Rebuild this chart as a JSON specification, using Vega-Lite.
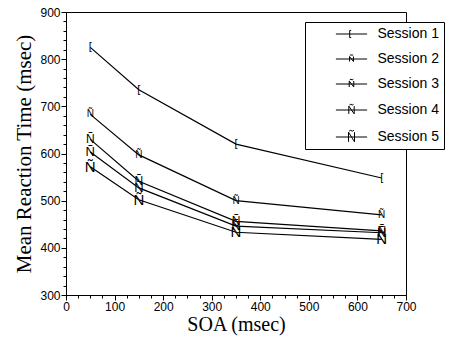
{
  "$schema": "https://vega.github.io/schema/vega-lite/v6.json",
  "width": 340,
  "height": 283,
  "autosize": {"type": "none"},
  "padding": {"left": 66, "top": 12, "right": 64, "bottom": 45},
  "background": "white",
  "config": {
    "view": {"stroke": "black", "strokeWidth": 1},
    "axis": {
      "domainColor": "black", "tickColor": "black", "labelColor": "black", "titleColor": "black",
      "grid": false, "labelFont": "Liberation Sans", "labelFontSize": 12,
      "titleFont": "Liberation Serif", "titleFontSize": 20, "titleFontWeight": "normal",
      "labelFlush": false, "labelOverlap": false, "tickWidth": 1, "domainWidth": 1, "labelPadding": 1
    }
  },
  "data": {"values": [
    {"session": "Session 1", "soa": 50, "rt": 825},
    {"session": "Session 1", "soa": 150, "rt": 735},
    {"session": "Session 1", "soa": 350, "rt": 620},
    {"session": "Session 1", "soa": 650, "rt": 548},
    {"session": "Session 2", "soa": 50, "rt": 683},
    {"session": "Session 2", "soa": 150, "rt": 597},
    {"session": "Session 2", "soa": 350, "rt": 500},
    {"session": "Session 2", "soa": 650, "rt": 470},
    {"session": "Session 3", "soa": 50, "rt": 630},
    {"session": "Session 3", "soa": 150, "rt": 541},
    {"session": "Session 3", "soa": 350, "rt": 456},
    {"session": "Session 3", "soa": 650, "rt": 436},
    {"session": "Session 4", "soa": 50, "rt": 603},
    {"session": "Session 4", "soa": 150, "rt": 527},
    {"session": "Session 4", "soa": 350, "rt": 446},
    {"session": "Session 4", "soa": 650, "rt": 432},
    {"session": "Session 5", "soa": 50, "rt": 572},
    {"session": "Session 5", "soa": 150, "rt": 502},
    {"session": "Session 5", "soa": 350, "rt": 433},
    {"session": "Session 5", "soa": 650, "rt": 418}
  ]},
  "encoding": {
    "x": {
      "field": "soa", "type": "quantitative",
      "scale": {"domain": [0, 700], "nice": false},
      "axis": {
        "title": "SOA (msec)", "titlePadding": 2,
        "values": [0,25,50,75,100,125,150,175,200,225,250,275,300,325,350,375,400,425,450,475,500,525,550,575,600,625,650,675,700],
        "labelExpr": "datum.value % 100 === 0 ? datum.label : ''",
        "tickSize": {"condition": {"test": "datum.value % 100 === 0", "value": 5}, "value": 3}
      }
    },
    "y": {
      "field": "rt", "type": "quantitative",
      "scale": {"domain": [300, 900], "nice": false, "zero": false},
      "axis": {
        "title": "Mean Reaction Time (msec)", "titlePadding": 5, "titleFontSize": 21,
        "values": [300,320,340,360,380,400,420,440,460,480,500,520,540,560,580,600,620,640,660,680,700,720,740,760,780,800,820,840,860,880,900],
        "labelExpr": "datum.value % 100 === 0 ? datum.label : ''",
        "tickSize": {"condition": {"test": "datum.value % 100 === 0", "value": 5}, "value": 3}
      }
    }
  },
  "layer": [
    {
      "mark": {"type": "line", "color": "black", "strokeWidth": 1.2},
      "encoding": {"detail": {"field": "session", "type": "nominal"}}
    },
    {
      "mark": {"type": "text", "color": "black", "font": "Liberation Sans", "align": "center", "baseline": "middle"},
      "encoding": {
        "text": {"condition": {"test": "datum.session === 'Session 1'", "value": "["}, "value": "Ñ"},
        "size": {"condition": [
          {"test": "datum.session === 'Session 1'", "value": 11},
          {"test": "datum.session === 'Session 2'", "value": 10},
          {"test": "datum.session === 'Session 3'", "value": 12},
          {"test": "datum.session === 'Session 4'", "value": 13}
        ], "value": 15}
      }
    },
    {
      "mark": {"type": "point", "opacity": 0, "filled": false, "color": "black"},
      "encoding": {
        "shape": {
          "field": "session", "type": "nominal",
          "scale": {
            "domain": ["Session 1","Session 2","Session 3","Session 4","Session 5"],
            "range": [
              "M-2.6,0H2.6M-0.05,-0.6H-0.3V0.6H-0.05",
              "M-2.6,0H2.6M-0.33,0.42V-0.42L0.33,0.42V-0.42M-0.28,-0.6L-0.1,-0.72L0.1,-0.6L0.28,-0.72",
              "M-2.6,0H2.6M-0.38,0.5V-0.5L0.38,0.5V-0.5M-0.3,-0.68L-0.1,-0.8L0.1,-0.68L0.3,-0.8",
              "M-2.6,0H2.6M-0.45,0.65V-0.65L0.45,0.65V-0.65M-0.35,-0.83L-0.12,-0.96L0.12,-0.83L0.35,-0.96",
              "M-2.6,0H2.6M-0.5,0.8V-0.8L0.5,0.8V-0.8M-0.4,-0.98L-0.13,-1.12L0.13,-0.98L0.4,-1.12"
            ]
          },
          "legend": {
            "title": null, "orient": "none", "legendX": 239, "legendY": 10,
            "fillColor": "white", "strokeColor": "black", "padding": 5, "cornerRadius": 0,
            "symbolSize": 144, "symbolOffset": 34.5, "labelOffset": 19, "rowPadding": 11,
            "symbolOpacity": 1, "symbolStrokeColor": "black", "symbolStrokeWidth": 1, "symbolFillColor": "transparent",
            "labelFont": "Liberation Sans", "labelFontSize": 14, "labelColor": "black",
            "labelExpr": "datum.label + '\u00a0\u00a0\u00a0\u00a0\u00a0\u00a0\u00a0\u00a0\u00a0\u00a0\u00a0'", "labelLimit": 300
          }
        }
      }
    }
  ]
}
